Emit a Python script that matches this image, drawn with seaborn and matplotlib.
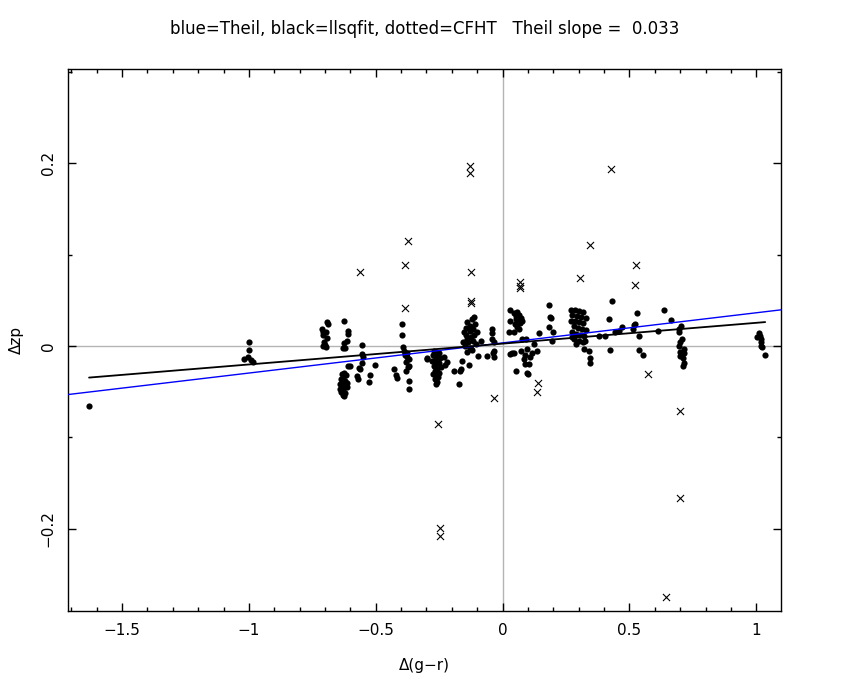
import matplotlib
matplotlib.use("Agg")
import matplotlib.pyplot as plt
import seaborn as sns
import numpy as np
import pandas as pd
from matplotlib.ticker import MultipleLocator

sns.set_theme(style="white")
plt.rcParams['font.family'] = ['DejaVu Sans']
plt.rcParams['text.color'] = 'black'
plt.rcParams['axes.labelcolor'] = 'black'
plt.rcParams['xtick.color'] = 'black'
plt.rcParams['ytick.color'] = 'black'

# filled dots (good stars), grouped by colour bin
far_left = [(-1.630, -0.066)]
bin_m100 = [(-1.001, 0.004), (-0.999, -0.004), (-1.020, -0.014), (-0.992, -0.015),
            (-0.984, -0.017), (-1.005, -0.012)]
bin_m070 = [(-0.693, 0.026), (-0.688, 0.024), (-0.710, 0.019), (-0.706, 0.015),
            (-0.697, 0.015), (-0.694, 0.009), (-0.703, 0.005), (-0.700, 0.001),
            (-0.706, 0.0), (-0.695, -0.001), (-0.708, 0.012)]
bin_m062_hi = [(-0.627, 0.027), (-0.611, 0.0165), (-0.610, 0.013), (-0.614, 0.006),
               (-0.625, 0.003), (-0.631, -0.0026), (-0.620, -0.002)]
bin_m062_lo = [(-0.611, -0.022), (-0.601, -0.022), (-0.625, -0.029), (-0.632, -0.031),
               (-0.618, -0.032), (-0.628, -0.035), (-0.636, -0.036), (-0.620, -0.038),
               (-0.630, -0.040), (-0.640, -0.041), (-0.624, -0.043), (-0.633, -0.045),
               (-0.615, -0.045), (-0.628, -0.048), (-0.637, -0.050), (-0.622, -0.051),
               (-0.630, -0.053), (-0.626, -0.055), (-0.612, -0.040), (-0.640, -0.047)]
bin_m055 = [(-0.554, 0.0014), (-0.556, -0.009), (-0.556, -0.018), (-0.562, -0.025),
            (-0.566, -0.0235), (-0.570, -0.036), (-0.572, -0.033), (-0.526, -0.039),
            (-0.523, -0.032), (-0.504, -0.021), (-0.550, -0.012)]
bin_m039 = [(-0.395, 0.024), (-0.396, 0.012), (-0.391, -0.0015), (-0.378, -0.007),
            (-0.385, -0.010), (-0.375, -0.012), (-0.370, -0.014), (-0.380, -0.017),
            (-0.370, -0.022), (-0.382, -0.027), (-0.373, -0.0225), (-0.428, -0.025),
            (-0.415, -0.035), (-0.420, -0.032), (-0.369, -0.038), (-0.369, -0.047),
            (-0.388, -0.005)]
bin_m026 = [(-0.297, -0.0125), (-0.297, -0.014), (-0.270, -0.005), (-0.262, -0.006),
            (-0.250, -0.007), (-0.275, -0.010), (-0.258, -0.012), (-0.245, -0.013),
            (-0.268, -0.015), (-0.280, -0.016), (-0.252, -0.018), (-0.263, -0.020),
            (-0.272, -0.022), (-0.244, -0.023), (-0.258, -0.025), (-0.266, -0.027),
            (-0.250, -0.029), (-0.276, -0.030), (-0.260, -0.032), (-0.254, -0.034),
            (-0.266, -0.036), (-0.258, -0.039), (-0.262, -0.042), (-0.228, -0.021),
            (-0.218, -0.017), (-0.230, -0.012)]
bin_m015_lo = [(-0.192, -0.027), (-0.172, -0.041), (-0.165, -0.025), (-0.168, -0.027),
               (-0.161, -0.016), (-0.133, -0.021), (-0.126, -0.003), (-0.097, -0.011),
               (-0.060, -0.011), (-0.087, 0.006)]
bin_m013_hi = [(-0.139, 0.026), (-0.119, 0.030), (-0.112, 0.032), (-0.128, 0.022),
               (-0.152, 0.015), (-0.145, 0.012), (-0.130, 0.016), (-0.118, 0.019),
               (-0.108, 0.024), (-0.140, 0.008), (-0.125, 0.010), (-0.112, 0.012),
               (-0.155, 0.005), (-0.135, 0.004), (-0.118, 0.006), (-0.150, 0.000),
               (-0.130, -0.002), (-0.142, -0.006), (-0.120, -0.004), (-0.105, 0.002),
               (-0.145, 0.020), (-0.100, 0.015)]
bin_m004 = [(-0.041, 0.019), (-0.040, 0.014), (-0.041, 0.008), (-0.034, 0.004),
            (-0.034, -0.005), (-0.036, -0.008), (-0.035, -0.012)]
bin_p005_hi = [(0.031, 0.039), (0.031, 0.028), (0.045, 0.036), (0.058, 0.037),
               (0.065, 0.034), (0.071, 0.031), (0.052, 0.030), (0.060, 0.027),
               (0.070, 0.025), (0.048, 0.024), (0.058, 0.021), (0.066, 0.019),
               (0.075, 0.028), (0.053, 0.033), (0.025, 0.015), (0.045, 0.015)]
bin_p008_lo = [(0.045, -0.007), (0.031, -0.009), (0.038, -0.007), (0.071, -0.005),
               (0.097, -0.003), (0.084, -0.014), (0.104, -0.020), (0.137, -0.005),
               (0.051, -0.027), (0.097, -0.029), (0.101, -0.030), (0.078, 0.0077),
               (0.090, -0.010), (0.110, -0.012), (0.143, 0.014), (0.125, 0.002),
               (0.093, 0.008), (0.115, -0.008), (0.090, -0.020)]
bin_p019 = [(0.182, 0.045), (0.186, 0.0316), (0.192, 0.031), (0.182, 0.021),
            (0.200, 0.015), (0.196, 0.006)]
bin_p030 = [(0.268, 0.039), (0.285, 0.040), (0.300, 0.038), (0.315, 0.037),
            (0.275, 0.034), (0.292, 0.033), (0.310, 0.032), (0.328, 0.031),
            (0.270, 0.028), (0.285, 0.027), (0.300, 0.026), (0.318, 0.025),
            (0.280, 0.022), (0.296, 0.020), (0.312, 0.019), (0.330, 0.018),
            (0.272, 0.015), (0.290, 0.013), (0.305, 0.012), (0.322, 0.011),
            (0.282, 0.008), (0.300, 0.006), (0.316, 0.004), (0.290, 0.002),
            (0.326, 0.006), (0.275, 0.010), (0.320, -0.003), (0.340, -0.005),
            (0.346, -0.0125), (0.344, -0.018)]
bin_p050 = [(0.403, 0.011), (0.419, 0.030), (0.432, 0.049), (0.425, -0.004),
            (0.445, 0.015), (0.458, 0.017), (0.517, 0.023), (0.520, 0.024),
            (0.514, 0.019), (0.538, 0.011), (0.528, 0.036), (0.537, -0.004),
            (0.554, -0.0095), (0.613, 0.016), (0.638, 0.039), (0.664, 0.029),
            (0.470, 0.021), (0.380, 0.011)]
bin_p070 = [(0.694, 0.019), (0.694, 0.015), (0.703, 0.0217), (0.707, 0.0077),
            (0.694, 0.0), (0.714, -0.003), (0.714, -0.008), (0.712, -0.013),
            (0.701, -0.011), (0.716, -0.018), (0.710, -0.022), (0.698, -0.006),
            (0.700, 0.004)]
bin_p100 = [(1.016, 0.011), (1.003, 0.0095), (1.018, 0.008), (1.020, 0.004),
            (1.020, 0.0), (1.022, -0.0015), (1.035, -0.010), (1.010, 0.014)]

# rejected points drawn as crosses
rejected = [(-0.563, 0.081), (-0.374, 0.115), (-0.383, 0.089), (-0.383, 0.042),
            (-0.125, 0.0815), (-0.125, 0.049), (-0.125, 0.047), (-0.130, 0.197),
            (-0.130, 0.1895), (0.067, 0.070), (0.067, 0.066), (0.067, 0.0636),
            (-0.033, -0.057), (0.138, -0.040), (0.134, -0.050), (-0.253, -0.085),
            (-0.248, -0.1995), (-0.248, -0.208), (0.429, 0.194), (0.344, 0.1105),
            (0.306, 0.0746), (0.525, 0.0885), (0.522, 0.0665), (0.574, -0.0305),
            (0.700, -0.071), (0.701, -0.1664), (0.646, -0.2744)]

theil_slope, theil_icpt = 0.033, 0.0035
lsq_slope, lsq_icpt = 0.0228, 0.0027

xlim = (-1.713, 1.098)
ylim = (-0.290, 0.303)

good = pd.DataFrame(far_left + bin_m100 + bin_m070 + bin_m062_hi + bin_m062_lo + bin_m055
                    + bin_m039 + bin_m026 + bin_m015_lo + bin_m013_hi + bin_m004
                    + bin_p005_hi + bin_p008_lo + bin_p019 + bin_p030 + bin_p050
                    + bin_p070 + bin_p100, columns=['dgr', 'dzp'])
bad = pd.DataFrame(rejected, columns=['dgr', 'dzp'])

fig = plt.figure(figsize=(8.5, 6.8), dpi=100)
ax = fig.add_axes([0.080, 0.1015, 0.839, 0.7965])

ax.axhline(0, color='#b4b4b4', lw=1, zorder=0)
ax.axvline(0, color='#b4b4b4', lw=1, zorder=0)

sns.scatterplot(data=good, x='dgr', y='dzp', ax=ax, color='black', marker='o',
                s=20, linewidth=0, zorder=3)
sns.scatterplot(data=bad, x='dgr', y='dzp', ax=ax, color='black', marker='x',
                s=26, linewidth=0.8, zorder=3)

# fitted lines
xb = np.array(xlim)
ax.plot(xb, theil_icpt + theil_slope * xb, color='blue', lw=1, zorder=4)
xk = np.array([good['dgr'].min(), good['dgr'].max()])
ax.plot(xk, lsq_icpt + lsq_slope * xk, color='black', lw=1.3, zorder=4)

ax.set_xlim(*xlim)
ax.set_ylim(*ylim)

ax.xaxis.set_major_locator(MultipleLocator(0.5))
ax.xaxis.set_minor_locator(MultipleLocator(0.1))
ax.yaxis.set_major_locator(MultipleLocator(0.2))
ax.yaxis.set_minor_locator(MultipleLocator(0.1))
ax.tick_params(which='both', direction='in', top=True, right=True, bottom=True, left=True,
               color='black', width=1)
ax.tick_params(which='major', length=6, labelsize=11, pad=9)
ax.tick_params(which='minor', length=3)
ax.set_xticks([-1.5, -1, -0.5, 0, 0.5, 1])
ax.set_xticklabels(['\u22121.5', '\u22121', '\u22120.5', '0', '0.5', '1'])
ax.set_yticks([-0.2, 0, 0.2])
ax.set_yticklabels(['\u22120.2', '0', '0.2'], rotation=90, va='center')
for sp in ax.spines.values():
    sp.set_color('black')
    sp.set_linewidth(1)

ax.set_xlabel('\u0394(g\u2212r)', fontsize=11, labelpad=14)
ax.set_ylabel('\u0394zp', fontsize=11, labelpad=12)
fig.text(0.5, 0.957, 'blue=Theil, black=llsqfit, dotted=CFHT   Theil slope =  0.033',
         ha='center', va='center', fontsize=12)

fig.savefig('out.png', dpi=100)
